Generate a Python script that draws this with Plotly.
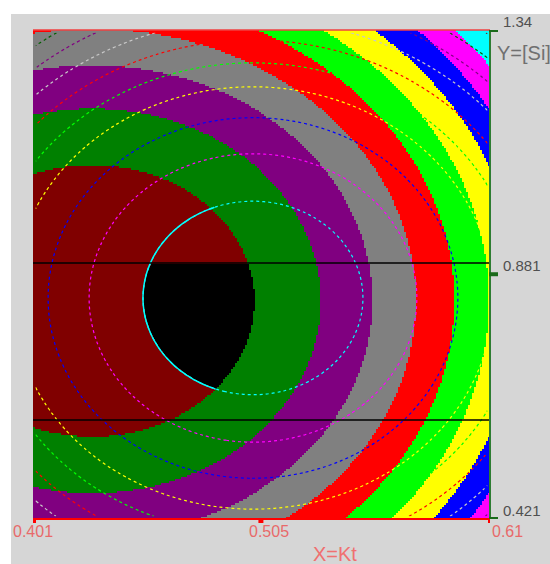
import numpy as np
import plotly.graph_objects as go

# ---------------- data ----------------
X_RANGE = [0.401, 0.61]          # X = Kt
Y_RANGE = [0.421, 1.34]          # Y = [Si]
X_TICKS = [0.401, 0.505, 0.61]
Y_TICKS = [0.421, 0.881, 1.34]
X_TITLE = "X=Kt"
Y_TITLE = "Y=[Si]"

# filled response (quadratic surface): centre, scale and band levels
FILL_CENTER = [0.428, 0.831]
FILL_SCALE = [0.0741, 0.2556]
FILL_LEVELS = [1, 2, 3, 4, 5, 6, 7, 8, 9]
FILL_COLORS = ["#800000", "#008000", "#800080", "#808080", "#FF0000",
               "#00FF00", "#FFFF00", "#0000FF", "#FF00FF", "#00FFFF"]
SWEET_COLOR = "#000000"

# overlaid response (dotted contour lines)
OVER_CENTER = [0.5016, 0.8364]
OVER_SCALE = [0.0503, 0.1819]
OVER_LEVELS = [1.0, 2.22, 3.47, 4.76, 5.9, 7.1, 8.3, 9.55, 10.7, 12.0]
OVER_COLORS = ["#00FFFF", "#FF00FF", "#0000FF", "#FFFF00", "#00FF00",
               "#FF0000", "#C8C8C8", "#800080", "#006000", "#800000"]

# Y limits (horizontal black lines)
Y_LIMITS = [0.607, 0.902]

# ---------------- grids ----------------
def grid(nx, ny):
    dx = (X_RANGE[1] - X_RANGE[0]) / nx
    dy = (Y_RANGE[1] - Y_RANGE[0]) / ny
    xs = np.linspace(X_RANGE[0] + dx / 2, X_RANGE[1] - dx / 2, nx)
    ys = np.linspace(Y_RANGE[0] + dy / 2, Y_RANGE[1] - dy / 2, ny)
    XX, YY = np.meshgrid(xs, ys)
    z1 = ((XX - FILL_CENTER[0]) / FILL_SCALE[0]) ** 2 + ((YY - FILL_CENTER[1]) / FILL_SCALE[1]) ** 2
    z2 = ((XX - OVER_CENTER[0]) / OVER_SCALE[0]) ** 2 + ((YY - OVER_CENTER[1]) / OVER_SCALE[1]) ** 2
    return xs, ys, XX, YY, z1, z2

# fine grid for the filled bands (about 2 px per cell)
xs, ys, XX, YY, z1, z2 = grid(229, 245)
band = np.searchsorted(np.array(FILL_LEVELS), z1, side="right").astype(int)
sweet = (z1 < FILL_LEVELS[0]) & (z2 < OVER_LEVELS[0]) & (YY >= Y_LIMITS[0]) & (YY <= Y_LIMITS[1])
band[sweet] = len(FILL_COLORS)

all_colors = FILL_COLORS + [SWEET_COLOR]
n = len(all_colors)
cscale = []
for i, c in enumerate(all_colors):
    cscale.append([i / n, c])
    cscale.append([(i + 1) / n, c])

fig = go.Figure()
fig.add_trace(go.Heatmap(x=xs, y=ys, z=band.tolist(), colorscale=cscale, zmin=-0.5, zmax=n - 0.5,
                         showscale=False, zsmooth=False, hoverinfo="skip"))

# coarser grid for the overlaid contour lines
cx, cy, CXX, CYY, c1, c2 = grid(90, 90)
c2r = np.round(c2, 4)
for lev, col in zip(OVER_LEVELS, OVER_COLORS):
    fig.add_trace(go.Contour(x=cx, y=cy, z=c2r.tolist(), showscale=False, hoverinfo="skip",
                             contours=dict(start=lev, end=lev, size=1, coloring="none"),
                             line=dict(color=col, width=1.2, dash="dot")))

# solid cyan boundary of the sweet spot inside the innermost band
z2_in = np.where(c1 < FILL_LEVELS[0] * 1.05, c2r, None)
fig.add_trace(go.Contour(x=cx, y=cy, z=z2_in.tolist(), showscale=False, hoverinfo="skip",
                         connectgaps=False,
                         contours=dict(start=OVER_LEVELS[0], end=OVER_LEVELS[0], size=1, coloring="none"),
                         line=dict(color=OVER_COLORS[0], width=1.5)))

# ---------------- frame / axes ----------------
L, R, T, B = 33, 490, 30, 519
W, H = 550, 564
pw, ph = R - L, B - T

shapes = []
shapes.append(dict(type="rect", xref="paper", yref="paper", layer="below",
                   x0=(11 - L) / pw, x1=(W + 5 - L) / pw, y0=(B - H - 5) / ph, y1=(B - 14) / ph,
                   fillcolor="#D6D6D6", line=dict(width=0)))
for yl in Y_LIMITS:
    shapes.append(dict(type="line", xref="paper", yref="y", x0=0, x1=1, y0=yl, y1=yl,
                       line=dict(color="#000000", width=1.5)))
shapes.append(dict(type="line", xref="paper", yref="paper", x0=0, x1=1, y0=1, y1=1,
                   line=dict(color="#F04040", width=1.5)))
shapes.append(dict(type="line", xref="paper", yref="paper", x0=0, x1=1, y0=0, y1=0,
                   line=dict(color="#FF0000", width=2)))
shapes.append(dict(type="line", xref="paper", yref="paper", x0=1, x1=1, y0=0, y1=1,
                   line=dict(color="#2E7D32", width=2)))
for xt in X_TICKS:
    shapes.append(dict(type="rect", xref="x", yref="paper", xsizemode="pixel", ysizemode="pixel",
                       xanchor=xt, yanchor=0, x0=-2, x1=3, y0=-4, y1=1,
                       fillcolor="#FF0000", line=dict(width=0)))
for yt in Y_TICKS:
    shapes.append(dict(type="rect", xref="paper", yref="y", xsizemode="pixel", ysizemode="pixel",
                       xanchor=1, yanchor=yt, x0=-1, x1=8, y0=-2, y1=2,
                       fillcolor="#1B6B1B", line=dict(width=0)))

annotations = []
xfont = dict(family="Liberation Sans, Arial, sans-serif", size=16, color="#E86A6A")
yfont = dict(family="Liberation Sans, Arial, sans-serif", size=15, color="#505050")
for i, xt in enumerate(X_TICKS):
    last = i == len(X_TICKS) - 1
    mid = 0 < i < len(X_TICKS) - 1
    annotations.append(dict(x=xt, y=0, xref="x", yref="paper", text=f"{xt:g}", showarrow=False,
                            xanchor="left" if last else "center", yanchor="middle",
                            xshift=(9 if mid else 0), yshift=-12, font=xfont))
for yt in Y_TICKS:
    annotations.append(dict(x=1, y=yt, xref="paper", yref="y", text=f"{yt:g}", showarrow=False,
                            xanchor="left", yanchor="middle", xshift=11, yshift=9, font=yfont))
annotations.append(dict(x=(335 - L) / pw, y=0, xref="paper", yref="paper", text=X_TITLE,
                        showarrow=False, xanchor="center", yanchor="middle", yshift=-35,
                        font=dict(family="Liberation Sans, Arial, sans-serif", size=20, color="#F07070")))
annotations.append(dict(x=1, y=(B - 53) / ph, xref="paper", yref="paper", text=Y_TITLE,
                        showarrow=False, xanchor="left", yanchor="middle", xshift=5,
                        font=dict(family="Liberation Sans, Arial, sans-serif", size=20, color="#707070")))

fig.update_layout(
    width=W, height=H,
    margin=dict(l=L, r=W - R, t=T, b=H - B, pad=0),
    paper_bgcolor="#FFFFFF", plot_bgcolor="#D6D6D6",
    showlegend=False,
    xaxis=dict(range=X_RANGE, showgrid=False, zeroline=False, showticklabels=False,
               ticks="", showline=False, fixedrange=True),
    yaxis=dict(range=Y_RANGE, showgrid=False, zeroline=False, showticklabels=False,
               ticks="", showline=False, fixedrange=True),
    shapes=shapes, annotations=annotations,
)

fig.write_html("out.html", config={"displayModeBar": False},
               post_script="document.body.style.margin='0';document.body.style.overflow='hidden';")
